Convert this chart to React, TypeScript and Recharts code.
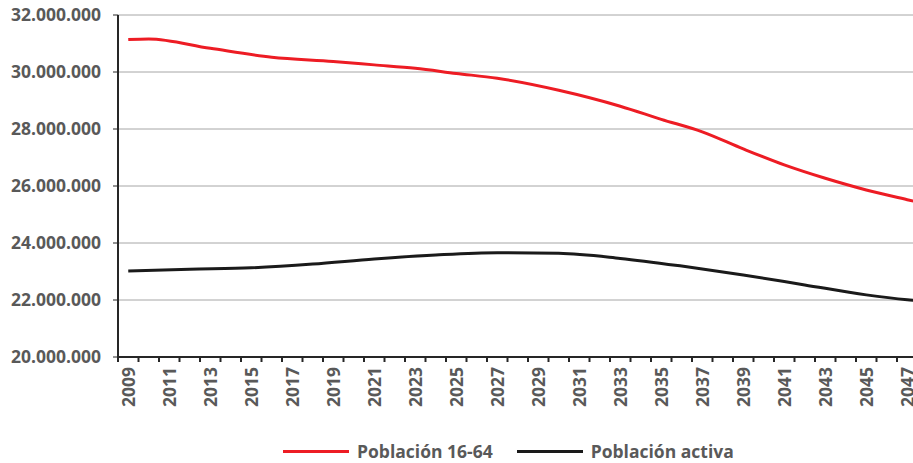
import { LineChart, Line, XAxis, YAxis, CartesianGrid, Legend } from "recharts";

// Years on the axis (one category per year)
const YEARS: number[] = [];
for (let y = 2009; y <= 2048; y++) YEARS.push(y);

const LABEL_YEARS = [
  2009, 2011, 2013, 2015, 2017, 2019, 2021, 2023, 2025, 2027,
  2029, 2031, 2033, 2035, 2037, 2039, 2041, 2043, 2045, 2047,
];

const Y_TICKS = [20000000, 22000000, 24000000, 26000000, 28000000, 30000000, 32000000];

// Población 16-64
const POB_YEARS = [2009, 2010, 2013, 2016, 2019, 2021, 2023, 2025, 2027, 2030, 2033, 2035, 2037, 2039, 2041, 2043, 2045, 2047, 2048];
const POB_VALUES = [
  31140000, 31160000, 30830000, 30520000, 30370000, 30250000, 30130000, 29950000, 29780000,
  29360000, 28800000, 28340000, 27900000, 27300000, 26740000, 26270000, 25860000, 25520000, 25350000,
];

// Población activa
const ACT_YEARS = [2009, 2012, 2015, 2018, 2021, 2024, 2027, 2030, 2033, 2036, 2039, 2042, 2045, 2047, 2048];
const ACT_VALUES = [
  23020000, 23080000, 23130000, 23260000, 23440000, 23580000, 23660000,
  23640000, 23460000, 23190000, 22880000, 22530000, 22180000, 22010000, 21950000,
];

const pobData = POB_YEARS.map((year, i) => ({ year, value: POB_VALUES[i] }));
const actData = ACT_YEARS.map((year, i) => ({ year, value: ACT_VALUES[i] }));

// tick marks sit on the boundaries between years, labels on odd years
const boundaryTicks = YEARS.map((y) => y - 0.5).concat([YEARS[YEARS.length - 1] + 0.5]);
const xTicks = [...boundaryTicks, ...LABEL_YEARS].sort((a, b) => a - b);

const FONT = "'Open Sans', sans-serif";
const GREY = "#595959";
const RED = "#ed1c24";
const BLACK = "#1a1a1a";

const fmt = (v: number) => String(v).replace(/\B(?=(\d{3})+(?!\d))/g, ".");

function YearTick(props: any) {
  const { x, y, payload } = props;
  const v = payload.value as number;
  if (v % 1 !== 0) {
    return <line x1={x} x2={x} y1={y - 10} y2={y - 5} stroke="#262626" strokeWidth={2} />;
  }
  return (
    <text
      x={x}
      y={y}
      transform={`rotate(-90, ${x}, ${y})`}
      textAnchor="end"
      dy="0.36em"
      fill={GREY}
      fontFamily={FONT}
      fontWeight={700}
      fontSize={17.5}
    >
      {v}
    </text>
  );
}

function LegendBox() {
  const items = [
    { label: "Población 16-64", color: RED },
    { label: "Población activa", color: BLACK },
  ];
  return (
    <div style={{ display: "flex", alignItems: "center", fontFamily: FONT, fontWeight: 700, fontSize: 17.5, color: GREY }}>
      {items.map((it) => (
        <div key={it.label} style={{ display: "flex", alignItems: "center", marginRight: 24 }}>
          <div style={{ width: 66, height: 3, background: it.color, marginRight: 8 }} />
          <span>{it.label}</span>
        </div>
      ))}
    </div>
  );
}

export default function App() {
  return (
    <div style={{ position: "absolute", left: 0, top: 0, width: 913, height: 463, overflow: "hidden", background: "#fff" }}>
      <LineChart width={942} height={463} margin={{ top: 15, right: 4, left: 0, bottom: 0 }}>
        <CartesianGrid vertical={false} stroke="#a6a6a6" strokeWidth={1} />
        <XAxis
          type="number"
          dataKey="year"
          domain={[2008.5, 2048.5]}
          ticks={xTicks}
          interval={0}
          allowDataOverflow
          tick={YearTick}
          tickLine={false}
          tickSize={5}
          tickMargin={5}
          height={82}
          axisLine={{ stroke: "#262626", strokeWidth: 2 }}
        />
        <YAxis
          domain={[20000000, 32000000]}
          ticks={Y_TICKS}
          interval={0}
          width={118}
          tickFormatter={fmt}
          tickSize={5}
          tickMargin={12}
          tick={{ fill: GREY, fontFamily: FONT, fontWeight: 700, fontSize: 17.5 }}
          tickLine={{ stroke: "#262626", strokeWidth: 1 }}
          axisLine={{ stroke: "#262626", strokeWidth: 2 }}
        />
        <Legend
          verticalAlign="bottom"
          align="left"
          height={24}
          content={() => <LegendBox />}
          wrapperStyle={{ left: 283, width: "auto" }}
        />
        <Line
          data={pobData}
          dataKey="value"
          name="Población 16-64"
          type="monotone"
          stroke={RED}
          strokeWidth={3}
          dot={false}
          isAnimationActive={false}
        />
        <Line
          data={actData}
          dataKey="value"
          name="Población activa"
          type="monotone"
          stroke={BLACK}
          strokeWidth={3}
          dot={false}
          isAnimationActive={false}
        />
      </LineChart>
    </div>
  );
}
